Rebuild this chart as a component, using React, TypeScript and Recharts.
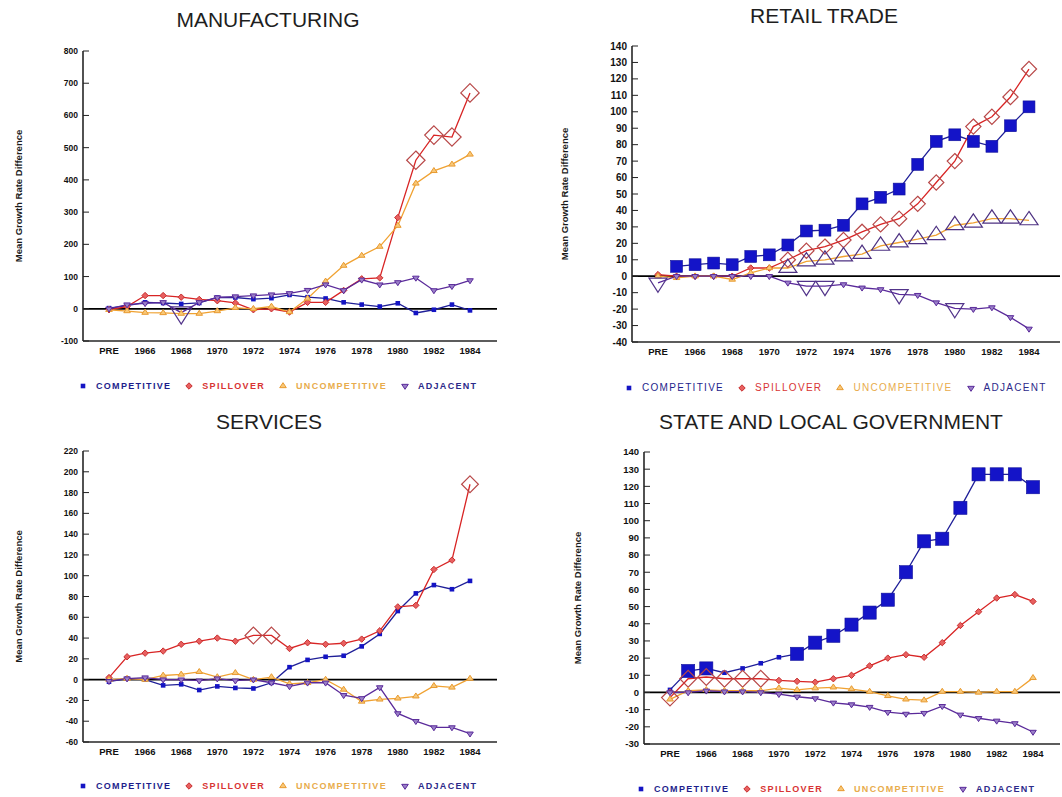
import React from 'react';
import { LineChart, Line, XAxis, YAxis, ReferenceLine } from 'recharts';

const years = ['PRE', '1965', '1966', '1967', '1968', '1969', '1970', '1971', '1972', '1973', '1974', '1975', '1976', '1977', '1978', '1979', '1980', '1981', '1982', '1983', '1984'];

// Manufacturing
const mfgCompetitive = [2, 10, 20, 18, 15, 18, 35, 35, 30, 33, 43, 36, 32, 20, 13, 7, 17, -13, -3, 13, -5];
const mfgSpillover = [-3, 7, 41, 41, 36, 29, 25, 18, -3, 0, -10, 20, 20, 57, 93, 96, 283, 461, 539, 533, 670];
const mfgUncompetitive = [-3, -7, -12, -13, -15, -15, -7, 3, 0, 7, -10, 32, 85, 134, 165, 193, 258, 389, 428, 448, 479];
const mfgAdjacent = [0, 13, 17, 20, -12, 20, 35, 38, 41, 44, 48, 58, 75, 57, 90, 75, 82, 96, 57, 70, 88];
const mfgTicks = [-100, 0, 100, 200, 300, 400, 500, 600, 700, 800];

// Retail trade
const rtlCompetitive = [null, 6, 7, 8, 7, 12, 13, 19, 27.5, 28, 31, 44, 48, 53, 68, 82, 86, 82, 79, 91.5, 103];
const rtlSpillover = [1, 0, 0, 0, 0, 5, 5, 10, 15.5, 18, 22, 27, 31.5, 35, 44, 57, 70, 91, 97, 109, 126];
const rtlUncompetitive = [0, -1, 0, 0, -2, 2, 5, 5, 9, 10, 12, 13.5, 18.5, 20.5, 22.5, 25, 31, 32.5, 35, 35, 34];
const rtlAdjacent = [-4, 0, 0, 0, 0, 0, 0, -4, -6, -6, -5, -7, -8, -11, -11.5, -16, -19.5, -20, -19, -25, -32];
const rtlTicks = [-40, -30, -20, -10, 0, 10, 20, 30, 40, 50, 60, 70, 80, 90, 100, 110, 120, 130, 140];

// Services
const svcCompetitive = [-2, 1, 0, -5.5, -4.5, -10, -6.5, -8, -8.5, -3, 12, 19, 22, 23, 32, 44, 66, 83, 91, 87, 95];
const svcSpillover = [2, 22, 25.5, 27.5, 34, 37, 40, 37, 42.5, 42.5, 30, 35.5, 34, 35, 39, 47, 70, 71.5, 106, 115, 188];
const svcUncompetitive = [0, 1, 0, 4, 5, 7.5, 2.5, 6.5, 0, 2.5, -4, -3, 0, -9.5, -21, -19, -18, -16, -6, -7.5, 1];
const svcAdjacent = [-1.5, 1, 2, 0, 0, -1, 1, -1, 0, -3, -6.5, -3, -3, -15, -18, -7.5, -32.5, -40, -46, -46, -52];
const svcTicks = [-60, -40, -20, 0, 20, 40, 60, 80, 100, 120, 140, 160, 180, 200, 220];

// State and local government
const slgCompetitive = [1.5, 12.5, 14, 11.5, 14, 17, 20.5, 22.5, 29, 33, 39.5, 46.5, 54, 70, 88, 89.5, 107.5, 127, 127, 127, 119.5];
const slgSpillover = [-3, 8, 9, 8, 8, 8, 7, 6.5, 6, 8, 10, 15.5, 20, 22, 20.5, 29, 39, 47, 55, 57, 53];
const slgUncompetitive = [-4, 1, 1.5, 1, 1, 1, 2.5, 1.5, 2.5, 3, 2, 0.5, -2, -4, -4.5, 0.5, 0.5, 0, 0.5, 0.5, 8.5];
const slgAdjacent = [0, 0, 1, 0.5, 0.5, 0, -1, -2.5, -3.5, -6, -7, -8.5, -11.5, -12.5, -12, -8, -13, -15, -16.5, -18, -23];
const slgTicks = [-30, -20, -10, 0, 10, 20, 30, 40, 50, 60, 70, 80, 90, 100, 110, 120, 130, 140];

// years flagged with an enlarged marker, per series
const mfgFlagged = {
  spillover: ['1981', '1982', '1983', '1984'],
  adjacent: ['1968'],
};
const rtlFlagged = {
  competitive: ['1965', '1966', '1967', '1968', '1969', '1970', '1971', '1972', '1973', '1974', '1975', '1976', '1977', '1978', '1979', '1980', '1981', '1982', '1983', '1984'],
  spillover: ['1971', '1972', '1973', '1974', '1975', '1976', '1977', '1978', '1979', '1980', '1981', '1982', '1983', '1984'],
  uncompetitive: ['1971', '1972', '1973', '1974', '1975', '1976', '1977', '1978', '1979', '1980', '1981', '1982', '1983', '1984'],
  adjacent: ['PRE', '1972', '1973', '1977', '1980'],
};
const svcFlagged = {
  spillover: ['1972', '1973', '1984'],
};
const slgFlagged = {
  competitive: ['1965', '1966', '1971', '1972', '1973', '1974', '1975', '1976', '1977', '1978', '1979', '1980', '1981', '1982', '1983', '1984'],
  spillover: ['PRE', '1965', '1966', '1967', '1968', '1969'],
};

type Shape = 'square' | 'diamond' | 'triangle' | 'invTriangle';

interface SeriesStyle {
  key: string;
  name: string;
  shape: Shape;
  line: string;
  mark: string;
  smallFill: string;
  bigStroke: string;
  bigFill: string;
  text: string;
}

const seriesStyles: SeriesStyle[] = [
  { key: 'competitive', name: 'COMPETITIVE', shape: 'square', line: '#1f1f98', mark: '#1414c4', smallFill: '#1414c4', bigStroke: '#10109a', bigFill: '#1414c8', text: '#1e1e8c' },
  { key: 'spillover', name: 'SPILLOVER', shape: 'diamond', line: '#d82424', mark: '#c83030', smallFill: '#e86060', bigStroke: '#b84848', bigFill: 'none', text: '#d83434' },
  { key: 'uncompetitive', name: 'UNCOMPETITIVE', shape: 'triangle', line: '#f0a232', mark: '#e89a30', smallFill: '#f8c878', bigStroke: '#4e3282', bigFill: 'none', text: '#e8ac4c' },
  { key: 'adjacent', name: 'ADJACENT', shape: 'invTriangle', line: '#5a2a9a', mark: '#5a2a9a', smallFill: '#9a80c8', bigStroke: '#52348a', bigFill: 'none', text: '#2c2a8a' },
];

const FONT = '"Liberation Sans", Arial, sans-serif';

const buildRows = (c: (number | null)[], s: number[], u: number[], a: number[]) =>
  years.map((year, i) => ({ year, competitive: c[i], spillover: s[i], uncompetitive: u[i], adjacent: a[i] }));

function drawShape(s: SeriesStyle, cx: number, cy: number, big: boolean, scale = 1) {
  const sw = big ? 1.2 : 1;
  const stroke = big ? s.bigStroke : s.mark;
  const fill = big ? s.bigFill : s.smallFill;
  switch (s.shape) {
    case 'square': {
      const d = (big ? 12.5 : 4.6) * scale;
      return <rect x={cx - d / 2} y={cy - d / 2} width={d} height={d} fill={big ? s.bigFill : s.mark} stroke={big ? s.bigStroke : 'none'} strokeWidth={0.6} />;
    }
    case 'diamond': {
      const r = (big ? 8 : 3.2) * scale;
      return <polygon points={`${cx},${cy - r} ${cx + r},${cy} ${cx},${cy + r} ${cx - r},${cy}`} fill={fill} stroke={stroke} strokeWidth={sw} />;
    }
    case 'triangle': {
      const w = (big ? 9.5 : 3.3) * scale;
      const h = (big ? 14 : 5) * scale;
      return <polygon points={`${cx},${cy - (h * 2) / 3} ${cx + w},${cy + h / 3} ${cx - w},${cy + h / 3}`} fill={fill} stroke={stroke} strokeWidth={sw} />;
    }
    default: {
      const w = (big ? 9.5 : 3.3) * scale;
      const h = (big ? 15 : 5) * scale;
      return <polygon points={`${cx},${cy + (h * 2) / 3} ${cx + w},${cy - h / 3} ${cx - w},${cy - h / 3}`} fill={fill} stroke={stroke} strokeWidth={sw} />;
    }
  }
}

const makeDot = (s: SeriesStyle, flagged: string[], scale: number) => (props: any) => {
  const { cx, cy, payload, index } = props;
  const key = `${s.key}-${index}`;
  if (cx == null || cy == null || payload == null || payload[s.key] == null) return <g key={key} />;
  const big = flagged.includes(payload.year);
  return <g key={key}>{drawShape(s, cx, cy, big, big ? scale : 1)}</g>;
};

function LegendRow({ left, top, weight, size }: { left: number; top: number; weight: number; size: number }) {
  return (
    <div style={{ position: 'absolute', left, top, display: 'flex', alignItems: 'center', whiteSpace: 'nowrap', fontFamily: FONT, fontSize: size, fontWeight: weight, letterSpacing: 1.3, lineHeight: '10px' }}>
      {seriesStyles.map((s) => (
        <span key={s.key} style={{ display: 'inline-flex', alignItems: 'center', marginRight: 13, color: s.text }}>
          <svg width={10} height={10} style={{ marginRight: 8 }}>
            {drawShape(s, 5, 5, false)}
          </svg>
          {s.name}
        </span>
      ))}
    </div>
  );
}

interface PanelProps {
  title: string;
  titleX: number;
  titleY: number;
  left: number;
  top: number;
  height: number;
  margin: { top: number; right: number; bottom: number; left: number };
  padLeft: number;
  padRight: number;
  data: ReturnType<typeof buildRows>;
  yDomain: [number, number];
  yTicks: number[];
  yFont: number;
  labelOffset: number;
  flagged: Record<string, string[]>;
  bigScale: number;
  legendLeft: number;
  legendTop: number;
  legendWeight: number;
  legendSize: number;
}

const frame = { stroke: '#262626', strokeWidth: 1.6 };

function Panel(p: PanelProps) {
  return (
    <div style={{ position: 'absolute', left: p.left, top: p.top, width: 531, height: p.height }}>
      <div style={{ position: 'absolute', left: p.titleX - 250, width: 500, top: p.titleY - 10, textAlign: 'center', fontFamily: FONT, fontSize: 21, lineHeight: '21px', color: '#1e1e1e' }}>
        {p.title}
      </div>
      <LineChart width={531} height={p.height} data={p.data} margin={p.margin}>
        <XAxis
          dataKey="year"
          type="category"
          interval={1}
          padding={{ left: p.padLeft, right: p.padRight }}
          height={20}
          tickLine={false}
          tickSize={0}
          tickMargin={6}
          axisLine={frame}
          tick={{ fontSize: 9.5, fontWeight: 700, fill: '#111', fontFamily: FONT }}
        />
        <XAxis xAxisId="frame" orientation="top" height={0} tick={false} tickLine={false} axisLine={frame} />
        <YAxis
          type="number"
          domain={p.yDomain}
          ticks={p.yTicks}
          interval={0}
          width={40}
          tickSize={-6}
          tickMargin={11}
          axisLine={frame}
          tickLine={{ stroke: '#222' }}
          tick={{ fontSize: p.yFont, fontWeight: 700, fill: '#111', fontFamily: FONT }}
          label={{ value: 'Mean Growth Rate Difference', angle: -90, position: 'insideLeft', offset: p.labelOffset, style: { textAnchor: 'middle', fontSize: 9.5, fontWeight: 700, fill: '#1a1a1a', fontFamily: FONT } }}
        />
        <YAxis yAxisId="frame" orientation="right" width={0} tick={false} tickLine={false} axisLine={frame} />
        <ReferenceLine y={0} stroke="#000" strokeWidth={1.8} />
        {seriesStyles.map((s) => (
          <Line
            key={s.key}
            dataKey={s.key}
            name={s.name}
            type="linear"
            stroke={s.line}
            strokeWidth={1.3}
            dot={makeDot(s, p.flagged[s.key] || [], p.bigScale)}
            activeDot={false}
            connectNulls={false}
            isAnimationActive={false}
          />
        ))}
      </LineChart>
      <LegendRow left={p.legendLeft} top={p.legendTop} weight={p.legendWeight} size={p.legendSize} />
    </div>
  );
}

export default function App() {
  return (
    <div style={{ position: 'absolute', left: 0, top: 0, width: 1062, height: 797, background: '#fff', overflow: 'hidden' }}>
      <Panel
        title="MANUFACTURING"
        titleX={268}
        titleY={19}
        left={0}
        top={0}
        height={400}
        margin={{ top: 51, right: 34, bottom: 39, left: 43 }}
        padLeft={26}
        padRight={27}
        data={buildRows(mfgCompetitive, mfgSpillover, mfgUncompetitive, mfgAdjacent)}
        yDomain={[-100, 800]}
        yTicks={mfgTicks}
        yFont={8.5}
        labelOffset={-24}
        flagged={mfgFlagged}
        bigScale={1.15}
        legendLeft={78}
        legendTop={381}
        legendWeight={700}
        legendSize={9}
      />
      <Panel
        title="RETAIL TRADE"
        titleX={293}
        titleY={15}
        left={531}
        top={0}
        height={400}
        margin={{ top: 46, right: 2, bottom: 38, left: 61 }}
        padLeft={26}
        padRight={31}
        data={buildRows(rtlCompetitive, rtlSpillover, rtlUncompetitive, rtlAdjacent)}
        yDomain={[-40, 140]}
        yTicks={rtlTicks}
        yFont={10}
        labelOffset={-27}
        flagged={rtlFlagged}
        bigScale={0.95}
        legendLeft={93}
        legendTop={383}
        legendWeight={400}
        legendSize={10}
      />
      <Panel
        title="SERVICES"
        titleX={269}
        titleY={21}
        left={0}
        top={400}
        height={397}
        margin={{ top: 51, right: 34, bottom: 35, left: 43 }}
        padLeft={26}
        padRight={27}
        data={buildRows(svcCompetitive, svcSpillover, svcUncompetitive, svcAdjacent)}
        yDomain={[-60, 220]}
        yTicks={svcTicks}
        yFont={8.5}
        labelOffset={-24}
        flagged={svcFlagged}
        bigScale={1.05}
        legendLeft={78}
        legendTop={381}
        legendWeight={700}
        legendSize={9}
      />
      <Panel
        title="STATE AND LOCAL GOVERNMENT"
        titleX={300}
        titleY={21}
        left={531}
        top={400}
        height={397}
        margin={{ top: 52, right: 2, bottom: 33, left: 73 }}
        padLeft={26}
        padRight={27}
        data={buildRows(slgCompetitive, slgSpillover, slgUncompetitive, slgAdjacent)}
        yDomain={[-30, 140]}
        yTicks={slgTicks}
        yFont={9.5}
        labelOffset={-26}
        flagged={slgFlagged}
        bigScale={1.05}
        legendLeft={105}
        legendTop={384}
        legendWeight={700}
        legendSize={9}
      />
    </div>
  );
}
